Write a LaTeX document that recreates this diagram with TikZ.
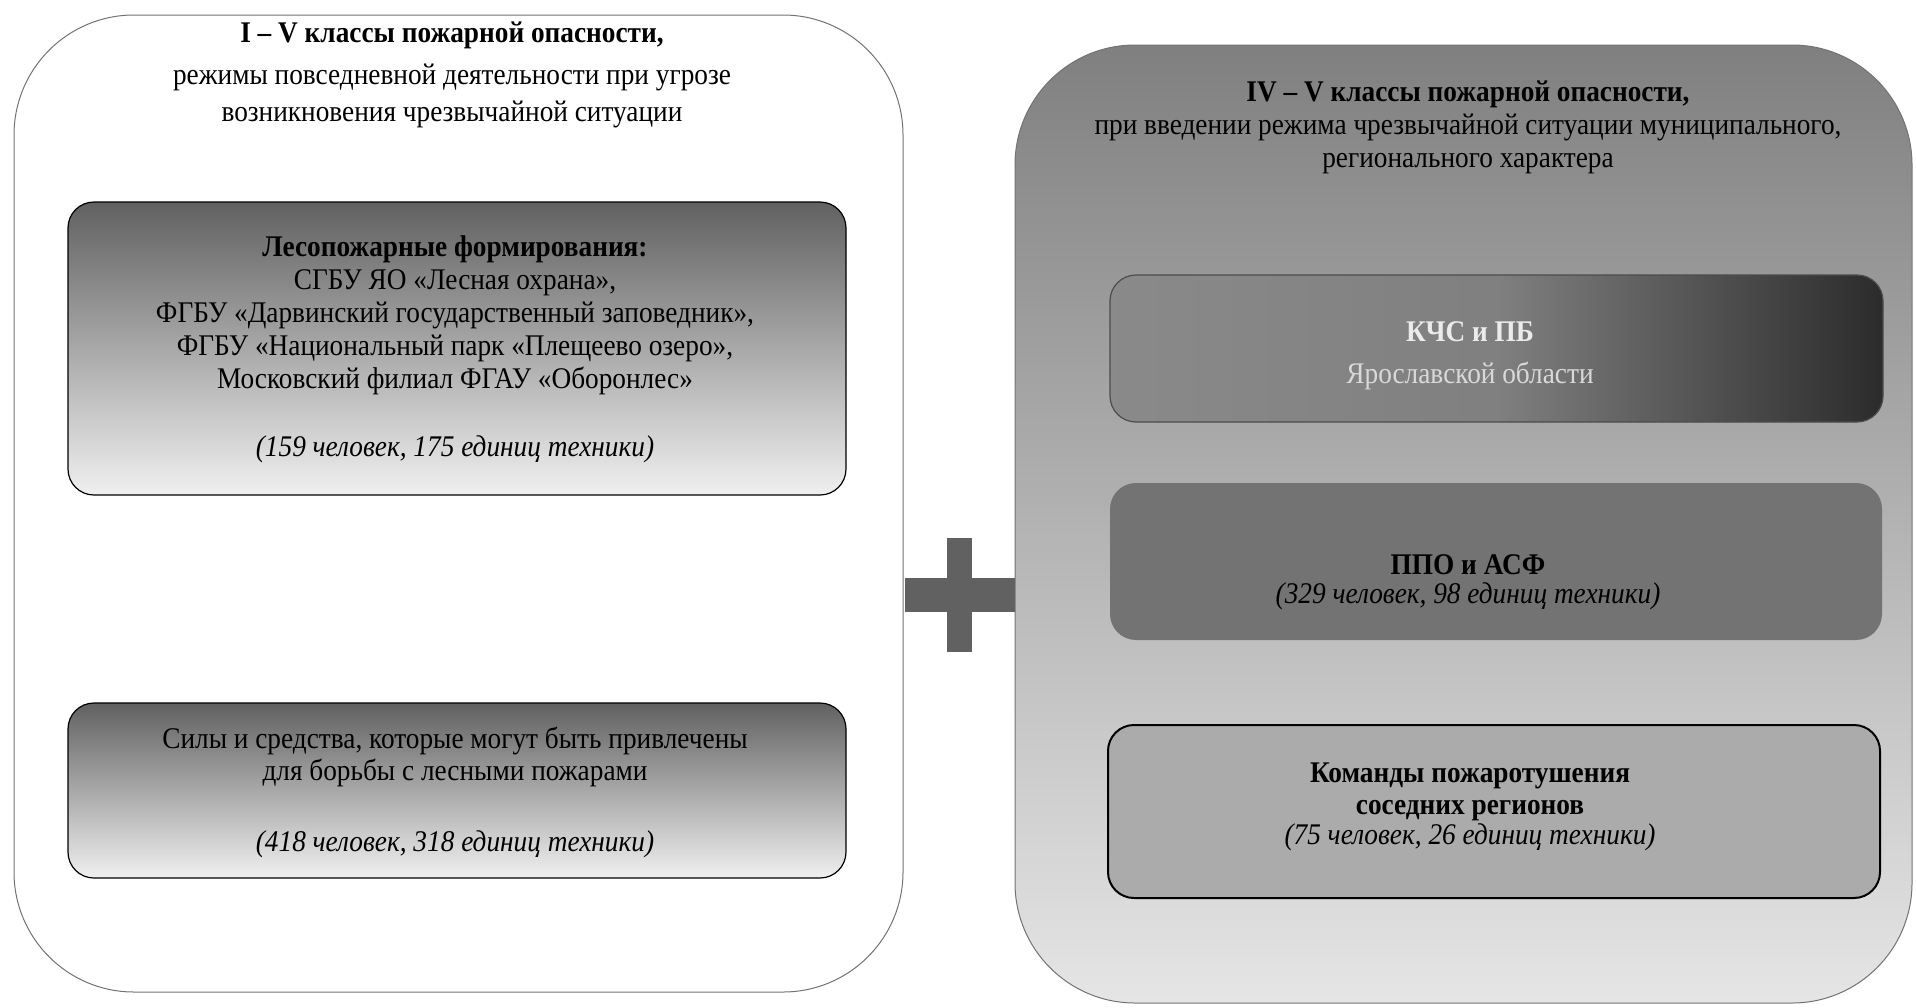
\documentclass[tikz,border=0pt]{standalone}
\usepackage{fontspec}
\setmainfont[FakeStretch=0.91]{Liberation Serif}
\pgfdeclarehorizontalshading{kchs}{100bp}{color(0bp)=(black!42); color(50bp)=(black!50); color(78bp)=(black!87); color(100bp)=(black)}
\begin{document}
\begin{tikzpicture}[x=0.5pt,y=-0.5pt,
  outer/.style={draw=black!55, line width=0.5pt, rounded corners=60pt, inner sep=0pt},
  inbox/.style={draw=black, line width=0.6pt, rounded corners=13pt, inner sep=0pt},
  plusbar/.style={fill=black!62, draw=none, inner sep=0pt},
  txt/.style={anchor=base, inner sep=0pt, font=\fontsize{15}{18}\selectfont},
  btxt/.style={txt, font=\fontsize{15}{18}\selectfont\bfseries},
  itxt/.style={txt, font=\fontsize{15}{18}\selectfont\itshape}]
\useasboundingbox (0,0) rectangle (1916,1007);
% outer containers
\node[outer, fill=white, minimum width=444.5pt, minimum height=488.5pt] (leftbox) at (458.5,503.5) {};
\node[outer, top color=black!50, bottom color=black!10, minimum width=448.5pt, minimum height=479pt] (rightbox) at (1463.5,524) {};
% plus sign
\node[plusbar, minimum width=55pt, minimum height=17pt] (plush) at (960,595) {};
\node[plusbar, minimum width=12.5pt, minimum height=57pt] (plusv) at (959.5,595) {};
% inner boxes
\node[inbox, top color=black!62, bottom color=black!6, minimum width=389pt, minimum height=146.5pt] (boxa) at (457,348.5) {};
\node[inbox, top color=black!62, bottom color=black!6, minimum width=389pt, minimum height=87.5pt] (boxb) at (457,790.5) {};
\node[inbox, draw=black!70, shading=kchs, minimum width=386.5pt, minimum height=73.5pt] (boxc) at (1496.5,348.5) {};
\node[inbox, draw=none, fill=black!55, minimum width=386pt, minimum height=78.5pt] (boxd) at (1496,561.5) {};
\node[inbox, line width=1pt, fill=black!33, minimum width=386pt, minimum height=86.5pt] (boxe) at (1494,811.5) {};
% left title
\node[btxt] (lt1) at (452,42) {I – V классы пожарной опасности,};
\node[txt] (lt2) at (452,84) {режимы повседневной деятельности при угрозе};
\node[txt] (lt3) at (452,121) {возникновения чрезвычайной ситуации};
% box A text
\node[btxt] (a1) at (455,256) {Лесопожарные формирования:};
\node[txt] (a2) at (455,289) {СГБУ ЯО «Лесная охрана»,};
\node[txt] (a3) at (455,322) {ФГБУ «Дарвинский государственный заповедник»,};
\node[txt] (a4) at (455,355) {ФГБУ «Национальный парк «Плещеево озеро»,};
\node[txt] (a5) at (455,388) {Московский филиал ФГАУ «Оборонлес»};
\node[itxt] (a6) at (455,456) {(159 человек, 175 единиц техники)};
% box B text
\node[txt] (b1) at (455,748) {Силы и средства, которые могут быть привлечены};
\node[txt] (b2) at (455,780) {для борьбы с лесными пожарами};
\node[itxt] (b3) at (455,851) {(418 человек, 318 единиц техники)};
% right title
\node[btxt] (rt1) at (1468,101) {IV – V классы пожарной опасности,};
\node[txt] (rt2) at (1468,134) {при введении режима чрезвычайной ситуации муниципального,};
\node[txt] (rt3) at (1468,167) {регионального характера};
% box C text
\node[btxt, text=black!8] (c1) at (1470,341) {КЧС и ПБ};
\node[txt, text=black!15] (c2) at (1470,383) {Ярославской области};
% box D text
\node[btxt] (d1) at (1468,574) {ППО и АСФ};
\node[itxt] (d2) at (1468,603) {(329 человек, 98 единиц техники)};
% box E text
\node[btxt] (e1) at (1470,782) {Команды пожаротушения};
\node[btxt] (e2) at (1470,814) {соседних регионов};
\node[itxt] (e3) at (1470,844) {(75 человек, 26 единиц техники)};
\end{tikzpicture}
\end{document}
